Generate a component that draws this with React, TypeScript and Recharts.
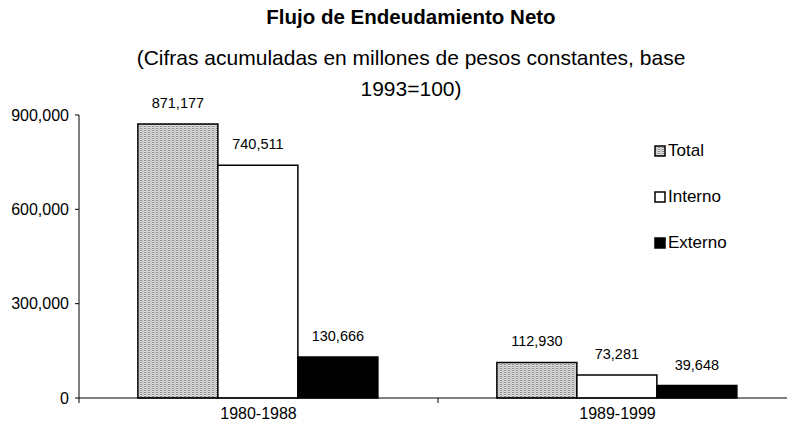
import { BarChart, Bar, XAxis, YAxis, LabelList } from 'recharts';

const periods = ['1980-1988', '1989-1999'];
const total = [871177, 112930];
const interno = [740511, 73281];
const externo = [130666, 39648];
const yTicks = [0, 300000, 600000, 900000];

const data = periods.map((p, i) => ({
    period: p,
    total: total[i],
    interno: interno[i],
    externo: externo[i],
}));

const font = '"Liberation Sans", Arial, sans-serif';
const fmt = (v: number) => v.toLocaleString('en-US');

const legendItems = [
    { label: 'Total', fill: 'url(#stripes)' },
    { label: 'Interno', fill: '#fff' },
    { label: 'Externo', fill: '#000' },
];

const LegendBox = () => (
    <div style={{ position: 'absolute', left: 654, top: 128, fontFamily: font, fontSize: 17, color: '#000' }}>
        {legendItems.map((it) => (
            <div key={it.label} style={{ display: 'flex', alignItems: 'center', height: 46 }}>
                <svg width={12} height={12} style={{ marginRight: 2 }}>
                    <rect x={1} y={1} width={10} height={10} fill={it.fill} stroke="#000" strokeWidth={1.5} />
                </svg>
                <span>{it.label}</span>
            </div>
        ))}
    </div>
);

// category label at the centre, small tick marks at the category edges
const PeriodTick = (props: any) => {
    const { x, y, payload, index, width, visibleTicksCount } = props;
    const half = width / (2 * (visibleTicksCount || periods.length));
    const top = y - 13;
    return (
        <g>
            <line x1={x + half} y1={top} x2={x + half} y2={top + 5} stroke="#000" />
            {index === 0 && <line x1={x - half} y1={top} x2={x - half} y2={top + 5} stroke="#000" />}
            <text x={x} y={y} dy={8} textAnchor="middle" fill="#000" fontSize={16} fontFamily={font}>
                {payload.value}
            </text>
        </g>
    );
};

export default function App() {
    return (
        <div style={{ position: 'absolute', left: 0, top: 0, width: 787, height: 434, overflow: 'hidden', background: '#fff', fontFamily: font }}>
            <div style={{ position: 'absolute', left: 411, top: 4, transform: 'translateX(-50%)', whiteSpace: 'nowrap', fontSize: 20.5, fontWeight: 'bold', lineHeight: '26px' }}>
                Flujo de Endeudamiento Neto
            </div>
            <div style={{ position: 'absolute', left: 411, top: 42, transform: 'translateX(-50%)', whiteSpace: 'nowrap', fontSize: 21, lineHeight: '31px', textAlign: 'center' }}>
                (Cifras acumuladas en millones de pesos constantes, base
                <br />
                1993=100)
            </div>
            <div style={{ position: 'absolute', left: 0, top: 0 }}>
                <BarChart
                    width={800}
                    height={434}
                    data={data}
                    margin={{ top: 115, right: 3, bottom: 0, left: 0 }}
                    barCategoryGap="16.4%"
                    barGap={0}
                >
                    <defs>
                        <pattern id="stripes" width={4} height={4} patternUnits="userSpaceOnUse">
                            <rect width={4} height={4} fill="#e2e2e2" />
                            <line x1={1} y1={0} x2={1} y2={4} stroke="#555" strokeWidth={1.2} strokeDasharray="1 1" />
                            <line x1={3} y1={0} x2={3} y2={4} stroke="#aaa" strokeWidth={0.8} />
                        </pattern>
                    </defs>
                    <XAxis
                        dataKey="period"
                        axisLine={{ stroke: '#000' }}
                        tickLine={false}
                        tick={<PeriodTick />}
                        tickMargin={7}
                        height={36}
                        interval={0}
                    />
                    <YAxis
                        width={79}
                        domain={[0, 900000]}
                        ticks={yTicks}
                        tickFormatter={fmt}
                        axisLine={{ stroke: '#000' }}
                        tickLine={{ stroke: '#000' }}
                        tickSize={4}
                        tickMargin={6}
                        tick={{ fill: '#000', fontSize: 16, fontFamily: font }}
                        interval={0}
                    />
                    <Bar dataKey="total" name="Total" fill="url(#stripes)" stroke="#000" strokeWidth={1.5} isAnimationActive={false}>
                        <LabelList dataKey="total" position="top" offset={16} formatter={fmt} style={{ fill: '#000', fontSize: 14.5, fontFamily: font }} />
                    </Bar>
                    <Bar dataKey="interno" name="Interno" fill="#fff" stroke="#000" strokeWidth={1.5} isAnimationActive={false}>
                        <LabelList dataKey="interno" position="top" offset={16} formatter={fmt} style={{ fill: '#000', fontSize: 14.5, fontFamily: font }} />
                    </Bar>
                    <Bar dataKey="externo" name="Externo" fill="#000" stroke="#000" strokeWidth={1.5} isAnimationActive={false}>
                        <LabelList dataKey="externo" position="top" offset={16} formatter={fmt} style={{ fill: '#000', fontSize: 14.5, fontFamily: font }} />
                    </Bar>
                </BarChart>
            </div>
            <LegendBox />
        </div>
    );
}
